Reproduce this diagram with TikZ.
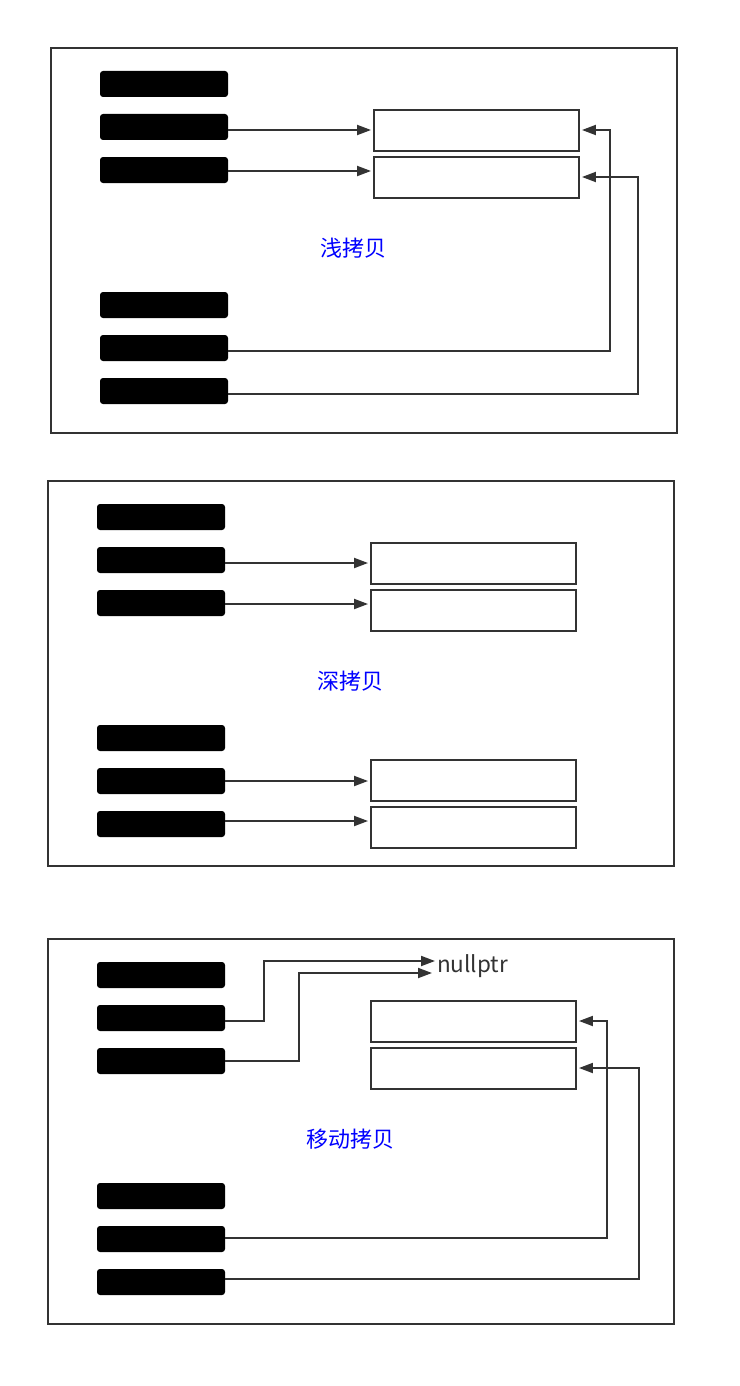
\documentclass[tikz,border=0pt]{standalone}
\usepackage{fontspec}
\newfontfamily\cjk{Noto Sans CJK SC}
\usetikzlibrary{arrows.meta}
\definecolor{ink}{HTML}{333333}

\begin{document}
\begin{tikzpicture}[x=1pt, y=-1pt,
	bar/.style={fill=black, rounded corners=3pt, minimum width=128pt,
        minimum height=26pt, inner sep=0pt},
	cell/.style={draw=ink, line width=1.9pt, minimum width=205pt,
        minimum height=41pt, inner sep=0pt},
	panel/.style={draw=ink, line width=1.8pt},
	arr/.style={draw=ink, line width=1.9pt, -{Triangle[length=14pt, width=10pt]}},
	title/.style={text=blue, font=\cjk\fontsize{22}{24}\selectfont}]
	\useasboundingbox (0,0) rectangle (739,1386);
	\fill[white] (0,0) rectangle (739,1386);
	\draw[panel] (51,48) rectangle (677,433);
	\node (A1) at (164,84) [bar] {};
	\node (A2) at (164,127) [bar] {};
	\node (A3) at (164,170) [bar] {};
	\node (A4) at (164,305) [bar] {};
	\node (A5) at (164,348) [bar] {};
	\node (A6) at (164,391) [bar] {};
	\node (P1) at (476.5,130.5) [cell] {};
	\node (P2) at (476.5,177.5) [cell] {};
	\node (T1) at (353,248) [title] {浅拷贝};
	\draw[arr] ([yshift=0.5pt]A2.east |- P1.west) -- ([shift={(-2,-0.5)}]P1.west);
	\draw[arr] ([yshift=6.5pt]A3.east |- P2.west) -- ([shift={(-2,-6.5)}]P2.west);
	\draw[arr] ([yshift=-3pt]A5.east) -| ([shift={(30,-0.5)}]P1.east) -- ([shift={(2,-0.5)}]P1.east);
	\draw[arr] ([yshift=-3pt]A6.east) -| ([shift={(58,-0.5)}]P2.east) -- ([shift={(2,-0.5)}]P2.east);

	\draw[panel] (48,481) rectangle (674,866);
	\node (B1) at (161,517) [bar] {};
	\node (B2) at (161,560) [bar] {};
	\node (B3) at (161,603) [bar] {};
	\node (B4) at (161,738) [bar] {};
	\node (B5) at (161,781) [bar] {};
	\node (B6) at (161,824) [bar] {};
	\node (Q1) at (473.5,563.5) [cell] {};
	\node (Q2) at (473.5,610.5) [cell] {};
	\node (Q3) at (473.5,780.5) [cell] {};
	\node (Q4) at (473.5,827.5) [cell] {};
	\node (T2) at (350,681) [title] {深拷贝};
	\draw[arr] ([yshift=0.5pt]B2.east |- Q1.west) -- ([shift={(-2,-0.5)}]Q1.west);
	\draw[arr] ([yshift=6.5pt]B3.east |- Q2.west) -- ([shift={(-2,-6.5)}]Q2.west);
	\draw[arr] ([yshift=-0.5pt]B5.east |- Q3.west) -- ([shift={(-2,0.5)}]Q3.west);
	\draw[arr] ([yshift=6.5pt]B6.east |- Q4.west) -- ([shift={(-2,-6.5)}]Q4.west);

	\draw[panel] (48,939) rectangle (674,1324);
	\node (C1) at (161,975) [bar] {};
	\node (C2) at (161,1018) [bar] {};
	\node (C3) at (161,1061) [bar] {};
	\node (C4) at (161,1196) [bar] {};
	\node (C5) at (161,1239) [bar] {};
	\node (C6) at (161,1282) [bar] {};
	\node (R1) at (473.5,1021.5) [cell] {};
	\node (R2) at (473.5,1068.5) [cell] {};
	\node (N) at (437,966) [anchor=west, inner sep=0pt, text=ink,
        font=\cjk\fontsize{22.5}{24}\selectfont] {nullptr};
	\node (T3) at (350,1139) [title] {移动拷贝};
	\draw[arr] ([yshift=-3pt]C2.east) -| (264,961) -- ([shift={(-2,-5)}]N.west);
	\draw[arr] (C3.east) -| (299,973) -- ([shift={(-5,7)}]N.west);
	\draw[arr] ([yshift=1pt]C5.east) -| ([shift={(30,-0.5)}]R1.east) -- ([shift={(2,-0.5)}]R1.east);
	\draw[arr] ([yshift=3pt]C6.east) -| ([shift={(62,-0.5)}]R2.east) -- ([shift={(2,-0.5)}]R2.east);
\end{tikzpicture}
\end{document}
